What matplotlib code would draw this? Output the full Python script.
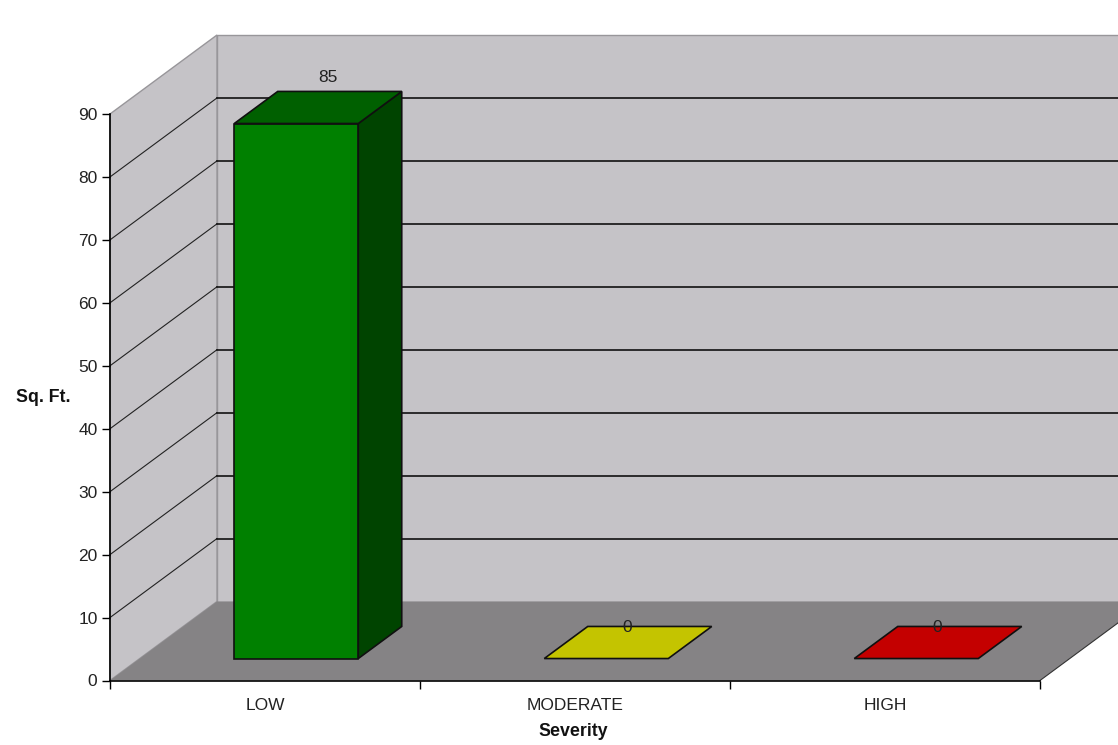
import matplotlib
matplotlib.use("Agg")
import matplotlib.pyplot as plt
from matplotlib.patches import Polygon

plt.rcParams["font.family"] = ["Liberation Sans", "DejaVu Sans"]

# Chart data
categories = ["LOW", "MODERATE", "HIGH"]
values = [85, 0, 0]
y_ticks = [0, 10, 20, 30, 40, 50, 60, 70, 80, 90]
y_title = "Sq. Ft."
x_title = "Severity"

# Bar styling: front, top, side
front_colors = ["#008000", "#c4c400", "#c40000"]
top_colors = ["#006000", "#c4c400", "#c40000"]
side_colors = ["#004400", "#8a8a00", "#8a0000"]

W, H = 1118, 745
fig = plt.figure(figsize=(W / 100, H / 100), dpi=100, facecolor="white")
ax = fig.add_axes([110 / W, (H - 680.5) / H, 930 / W, 566.5 / H])
ax.set_xlim(0, 3)
ax.set_ylim(0, 90)
ax.patch.set_visible(False)

# Oblique projection: depth 1 is the back wall
DEPTH_X = 107 / 310
DEPTH_Y = 79 / (566.5 / 90)


def proj(x, v, d=0.0):
    return (x + d * DEPTH_X, v + d * DEPTH_Y)


def face(points, color, edge, lw=1.0, z=2):
    ax.add_patch(Polygon(points, closed=True, facecolor=color, edgecolor=edge,
                         linewidth=lw, clip_on=False, zorder=z, joinstyle="miter"))


wall = "#c5c3c7"
floor = "#858385"
wall_edge = "#98969a"

# Back wall, side wall and floor
top = y_ticks[-1]
right = len(categories)
face([proj(0, 0, 1), proj(right + 0.2, 0, 1), proj(right + 0.2, top, 1), proj(0, top, 1)],
     wall, wall_edge, 1.0, 0.5)
face([proj(0, 0), proj(0, 0, 1), proj(0, top, 1), proj(0, top)], wall, wall_edge, 1.0, 0.6)
face([proj(0, 0), proj(right, 0), proj(right, 0, 1), proj(right + 0.2, 0, 1),
      proj(0, 0, 1)], floor, "none", 0, 0.7)

# Gridlines wrap from the side wall onto the back wall
for t in y_ticks[1:-1]:
    xs, ys = zip(proj(0, t), proj(0, t, 1))
    ax.plot(xs, ys, color="#222222", lw=0.8, clip_on=False, zorder=1)
    xs, ys = zip(proj(0, t, 1), proj(right + 0.2, t, 1))
    ax.plot(xs, ys, color="#111111", lw=1.2, clip_on=False, zorder=1)

# Right edge of the floor
xs, ys = zip(proj(right, 0), proj(right, 0, 1))
ax.plot(xs, ys, color="#333333", lw=0.8, clip_on=False, zorder=1)

# Bars
bar_width = 0.4
bar_inset = 0.305
d0, d1 = 0.278, 0.684
label_shift = [(10, 6), (-1, -1), (-1, -1)]
for i, (v, fc, tc, sc, shift) in enumerate(zip(values, front_colors, top_colors,
                                               side_colors, label_shift)):
    x0 = i + bar_inset
    x1 = x0 + bar_width
    edge = "#101010"
    if v > 0:
        face([proj(x1, 0, d0), proj(x1, 0, d1), proj(x1, v, d1), proj(x1, v, d0)], sc, edge, 1.2, 2)
        face([proj(x0, 0, d0), proj(x1, 0, d0), proj(x1, v, d0), proj(x0, v, d0)], fc, edge, 1.2, 3)
    face([proj(x0, v, d0), proj(x1, v, d0), proj(x1, v, d1), proj(x0, v, d1)], tc, edge, 1.2, 3)
    cx = (proj(x0, v, d0)[0] + proj(x1, v, d1)[0]) / 2
    ax.annotate(str(v), xy=(cx, proj(x0, v, d1)[1]), xytext=shift, textcoords="offset pixels",
                ha="center", va="center" if v == 0 else "bottom", fontsize=12.5, color="#222222",
                annotation_clip=False, zorder=5)

# Axes
for s in ("top", "right"):
    ax.spines[s].set_visible(False)
for s in ("left", "bottom"):
    ax.spines[s].set_linewidth(1.2)
    ax.spines[s].set_zorder(4)
ax.set_yticks(y_ticks)
ax.set_xticks(range(len(categories) + 1))
ax.set_xticklabels([])
ax.set_xticks([i + 0.5 for i in range(len(categories))], minor=True)
ax.set_xticklabels(categories, minor=True)
ax.tick_params(axis="x", which="minor", length=0, pad=12.5, labelsize=12.5, labelcolor="#222222")
ax.tick_params(axis="x", which="major", length=6, width=1)
ax.tick_params(axis="y", length=6, width=1, pad=3, labelsize=12.5, labelcolor="#222222")

fig.text(43.5 / W, 1 - 397 / H, y_title, fontsize=12.8, fontweight="bold", ha="center", va="center", color="#111111")
fig.text(573.5 / W, 1 - 731.5 / H, x_title, fontsize=12.8, fontweight="bold", ha="center", va="center", color="#111111")

fig.savefig("out.png", dpi=100)
